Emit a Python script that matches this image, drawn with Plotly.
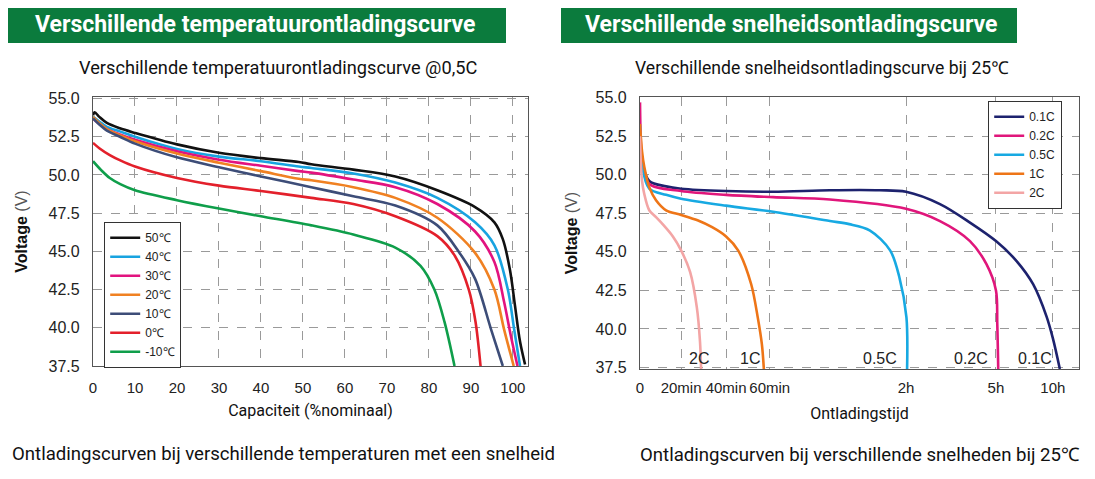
import numpy as np
import plotly.graph_objects as go

# ---------------- data: left chart (capacity % vs voltage) ----------------
temp_names = ["50℃", "40℃", "30℃", "20℃", "10℃", "0℃", "-10℃"]

cap_50 = [0, 0.4, 1.5, 3.3, 6.4, 10, 20, 30, 40, 49, 52, 62, 72, 82, 91, 95.6, 97.6, 99.3, 100.5, 101.7, 102.9]
v_50 = [53.9, 54.1, 53.8, 53.4, 53.05, 52.75, 52.0, 51.45, 51.1, 50.85, 50.7, 50.35, 49.9, 49.0, 47.9, 46.9, 45.8, 43.8, 41.45, 39.1, 37.6]

cap_40 = [0, 1.5, 3.3, 6.4, 10, 20, 30, 40, 49, 52, 62, 72, 82, 91, 95.6, 98.8, 100.3, 101.7]
v_40 = [53.8, 53.5, 53.15, 52.85, 52.5, 51.7, 51.2, 50.9, 50.55, 50.45, 50.1, 49.5, 48.5, 46.9, 45.4, 42.5, 39.9, 37.5]

cap_30 = [0, 1.5, 3.3, 6.4, 10, 20, 30, 40, 49, 52, 62, 72, 82, 91, 95.6, 97.9, 99.5, 101.1]
v_30 = [53.7, 53.35, 53.0, 52.65, 52.3, 51.55, 51.0, 50.6, 50.25, 50.15, 49.7, 49.2, 48.1, 46.3, 44.3, 41.7, 39.5, 37.5]

cap_20 = [0, 1.5, 3.3, 6.4, 10, 20, 30, 40, 49, 52, 62, 72, 82, 91, 95.6, 97.9, 100.2]
v_20 = [53.8, 53.4, 53.0, 52.6, 52.2, 51.4, 50.8, 50.25, 49.75, 49.65, 49.2, 48.5, 47.2, 44.9, 42.5, 39.9, 37.5]

cap_10 = [0, 1.5, 3.3, 6.4, 10, 20, 30, 40, 52, 62, 72, 82, 87.3, 91, 94.8, 97.6]
v_10 = [53.7, 53.3, 52.9, 52.5, 52.05, 51.15, 50.5, 49.9, 49.2, 48.6, 48.0, 46.7, 44.9, 43.2, 39.9, 37.5]

cap_0 = [0, 1.5, 4, 6.5, 10, 20, 30, 40, 52, 62, 72, 82, 86.2, 89.5, 91.1, 92.3]
v_0 = [52.1, 51.75, 51.3, 50.95, 50.55, 49.8, 49.3, 48.95, 48.5, 48.1, 47.3, 46.0, 44.7, 42.5, 40.4, 37.5]

cap_m10 = [0, 2, 4, 6.5, 10, 20, 30, 40, 52, 62, 72, 78, 81.3, 83.7, 86.1]
v_m10 = [50.9, 50.3, 49.8, 49.4, 49.0, 48.35, 47.8, 47.3, 46.7, 46.1, 45.25, 44.05, 42.5, 40.4, 37.5]

temp_caps = [cap_50, cap_40, cap_30, cap_20, cap_10, cap_0, cap_m10]
temp_volts = [v_50, v_40, v_30, v_20, v_10, v_0, v_m10]

cap_ticks = [0, 10, 20, 30, 40, 50, 60, 70, 80, 90, 100]
volt_ticks = [37.5, 40.0, 42.5, 45.0, 47.5, 50.0, 52.5, 55.0]

# ---------------- data: right chart (time in minutes vs voltage) ----------------
rate_names = ["0.1C", "0.2C", "0.5C", "1C", "2C"]

t_01 = [0, 1, 4.5, 12.7, 20, 40, 61.5, 86.5, 108.5, 120, 188, 248, 300, 409, 496, 567, 600, 637]
v_01 = [51.8, 50.8, 49.6, 49.25, 49.1, 48.95, 48.9, 49.0, 49.0, 48.9, 48.1, 46.9, 45.7, 44.4, 42.9, 40.8, 39.4, 37.4]

t_02 = [0, 0.3, 1, 4.5, 20, 40, 61.5, 86.5, 120, 188, 248, 281, 300, 307, 312]
v_02 = [54.7, 52.6, 50.9, 49.4, 48.95, 48.7, 48.55, 48.4, 47.8, 47.0, 45.7, 44.2, 42.5, 40.3, 37.4]

t_05 = [0, 1, 4.5, 12.7, 20, 40, 61.5, 86.5, 95, 104, 113, 117, 120.9, 122.2]
v_05 = [53.2, 50.6, 49.1, 48.7, 48.45, 48.0, 47.6, 47.0, 46.8, 46.4, 45.1, 43.4, 40.75, 37.4]

t_1 = [0, 1, 2.1, 4.5, 7.8, 12.7, 20, 27.3, 33.8, 40, 45.5, 51.5, 54.5, 56.4, 57.3]
v_1 = [53.3, 51.5, 50.5, 49.2, 48.35, 47.7, 47.4, 47.05, 46.6, 46.0, 45.1, 42.9, 40.75, 39.0, 37.4]

t_2 = [0, 0.5, 1, 2, 4.5, 7.8, 11, 16, 20, 24, 27, 28.4, 28.9]
v_2 = [52.5, 50.5, 49.6, 48.8, 47.7, 47.25, 46.8, 46.0, 45.1, 43.7, 41.4, 39.2, 37.4]

rate_times = [t_01, t_02, t_05, t_1, t_2]
rate_volts = [v_01, v_02, v_05, v_1, v_2]

time_tick_labels = ["0", "20min", "40min", "60min", "2h", "5h", "10h"]
time_tick_minutes = [0, 20, 40, 60, 120, 300, 600]

# ---------------- styles ----------------
temp_colors = ["#111111", "#18a3e0", "#e2137f", "#f08122", "#3d4d78", "#e3202b", "#0f9e4a"]
rate_colors = ["#1d226e", "#e0167b", "#17a9e2", "#ee7517", "#f3a5a5"]

# compressed time axis of the original chart (piecewise-linear scale)
time_tick_pos = [0, 19, 39.8, 60, 123, 164.6, 190.9]


def time_scale(t):
    t = np.asarray(t, dtype=float)
    pos = np.interp(t, time_tick_minutes, time_tick_pos)
    slope = (time_tick_pos[-1] - time_tick_pos[-2]) / (time_tick_minutes[-1] - time_tick_minutes[-2])
    over = t > time_tick_minutes[-1]
    pos[over] = time_tick_pos[-1] + (t[over] - time_tick_minutes[-1]) * slope
    return pos


# the page body has an 8px margin; lay everything out in window pixels
OFF = 8
W, H = 1095 - OFF, 479 - OFF


def fx(px):
    return (px - OFF) / W


def fy(py):
    return 1 - (py - OFF) / H


TICK_FONT = "Liberation Sans, Arial, sans-serif"
TEXT_FONT = "Roboto, Noto Sans, sans-serif"
GREEN = "#0b7b3d"

fig = go.Figure()

for name, xs, vs, col in zip(temp_names, temp_caps, temp_volts, temp_colors):
    fig.add_trace(go.Scatter(x=xs, y=vs, name=name, mode="lines",
                             line=dict(color=col, width=2.6, shape="spline", smoothing=0.9),
                             xaxis="x", yaxis="y", legend="legend"))

for name, ts, vs, col in zip(rate_names, rate_times, rate_volts, rate_colors):
    fig.add_trace(go.Scatter(x=time_scale(ts), y=vs, name=name, mode="lines",
                             line=dict(color=col, width=2.6, shape="spline", smoothing=0.9),
                             xaxis="x2", yaxis="y2", legend="legend2"))

axis_common = dict(showline=True, mirror=True, linecolor="#555555", linewidth=1.3,
                   showgrid=True, gridcolor="#9a9a9a", griddash="dash", gridwidth=1,
                   zeroline=False, ticks="", automargin=False,
                   tickfont=dict(family=TICK_FONT, size=16, color="#222"))

ytitle = "<b>Voltage</b> <span style='color:#555'>(V)</span>"

fig.update_layout(
    width=W, height=H,
    margin=dict(l=0, r=0, t=0, b=0),
    paper_bgcolor="white", plot_bgcolor="white",
    showlegend=True,
    xaxis=dict(axis_common, domain=[fx(93), fx(528)], range=[0, 103.6],
               tickvals=cap_ticks, ticktext=[str(v) for v in cap_ticks],
               tickfont=dict(family=TICK_FONT, size=15, color="#222"), ticklabelstandoff=8,
               title=dict(text="Capaciteit (%nominaal)", standoff=9,
                          font=dict(family=TEXT_FONT, size=16, color="#111")),
               anchor="y"),
    yaxis=dict(axis_common, domain=[fy(366), fy(97)], range=[37.5, 55.1],
               tickvals=volt_ticks, ticktext=[f"{v:.1f}" for v in volt_ticks], ticklabelstandoff=9,
               title=dict(text=ytitle, standoff=16,
                          font=dict(family=TICK_FONT, size=16, color="#111")),
               anchor="x"),
    xaxis2=dict(axis_common, domain=[fx(640), fx(1079)], range=[0, 203],
                tickvals=list(time_tick_pos), ticktext=time_tick_labels,
                tickfont=dict(family=TICK_FONT, size=15, color="#222"), ticklabelstandoff=5,
                title=dict(text="Ontladingstijd", standoff=12,
                           font=dict(family=TEXT_FONT, size=16, color="#111")),
                anchor="y2"),
    yaxis2=dict(axis_common, domain=[fy(369), fy(97)], range=[37.4, 55.05],
                tickvals=volt_ticks, ticktext=[f"{v:.1f}" for v in volt_ticks], ticklabelstandoff=9,
                title=dict(text=ytitle, standoff=13,
                           font=dict(family=TICK_FONT, size=16, color="#111")),
                anchor="x2"),
    legend=dict(x=fx(104), y=fy(222), xanchor="left", yanchor="top",
                bgcolor="white", bordercolor="#333", borderwidth=1.2,
                font=dict(family=TICK_FONT, size=12, color="#222"),
                itemwidth=30, tracegroupgap=0),
    legend2=dict(x=fx(988), y=fy(101), xanchor="left", yanchor="top",
                 bgcolor="white", bordercolor="#333", borderwidth=1.2,
                 font=dict(family=TICK_FONT, size=12, color="#222"),
                 itemwidth=30, tracegroupgap=0),
)

# banners
shapes = [
    dict(type="rect", xref="paper", yref="paper", x0=fx(7), x1=fx(506), y0=fy(43), y1=fy(7),
         fillcolor=GREEN, line=dict(width=0), layer="below"),
    dict(type="rect", xref="paper", yref="paper", x0=fx(561), x1=fx(1017), y0=fy(43), y1=fy(7),
         fillcolor=GREEN, line=dict(width=0), layer="below"),
]
fig.update_layout(shapes=shapes)


def text_ann(text, x, y, size, color="#111", anchor="center", bold=False):
    return dict(text=f"<b>{text}</b>" if bold else text, x=fx(x), y=fy(y),
                xref="paper", yref="paper", xanchor=anchor, yanchor="middle", showarrow=False,
                font=dict(family=TEXT_FONT, size=size, color=color))


ann = [
    text_ann("Verschillende temperatuurontladingscurve", 33, 25, 23, "white", "left", True),
    text_ann("Verschillende snelheidsontladingscurve", 583, 25, 23, "white", "left", True),
    text_ann("Verschillende temperatuurontladingscurve @0,5C", 278, 68, 18.2),
    text_ann("Verschillende snelheidsontladingscurve bij 25℃", 822, 68, 17.6),
    text_ann("Ontladingscurven bij verschillende temperaturen met een snelheid", 283, 454, 18.6),
    text_ann("Ontladingscurven bij verschillende snelheden bij 25℃", 860, 455, 18.6),
]

# curve end labels on the right chart
label_shift = {"0.1C": -6, "0.2C": -8, "0.5C": -8, "1C": -2, "2C": 10}
for name, ts in zip(rate_names, rate_times):
    end_pos = float(time_scale([ts[-1]])[0])
    ann.append(dict(text=name, x=end_pos, y=37.4, xref="x2", yref="y2",
                    xanchor="right", yanchor="bottom", showarrow=False, xshift=label_shift[name],
                    font=dict(family=TICK_FONT, size=16, color="#222")))

fig.update_layout(annotations=ann)

fig.write_html("out.html")
